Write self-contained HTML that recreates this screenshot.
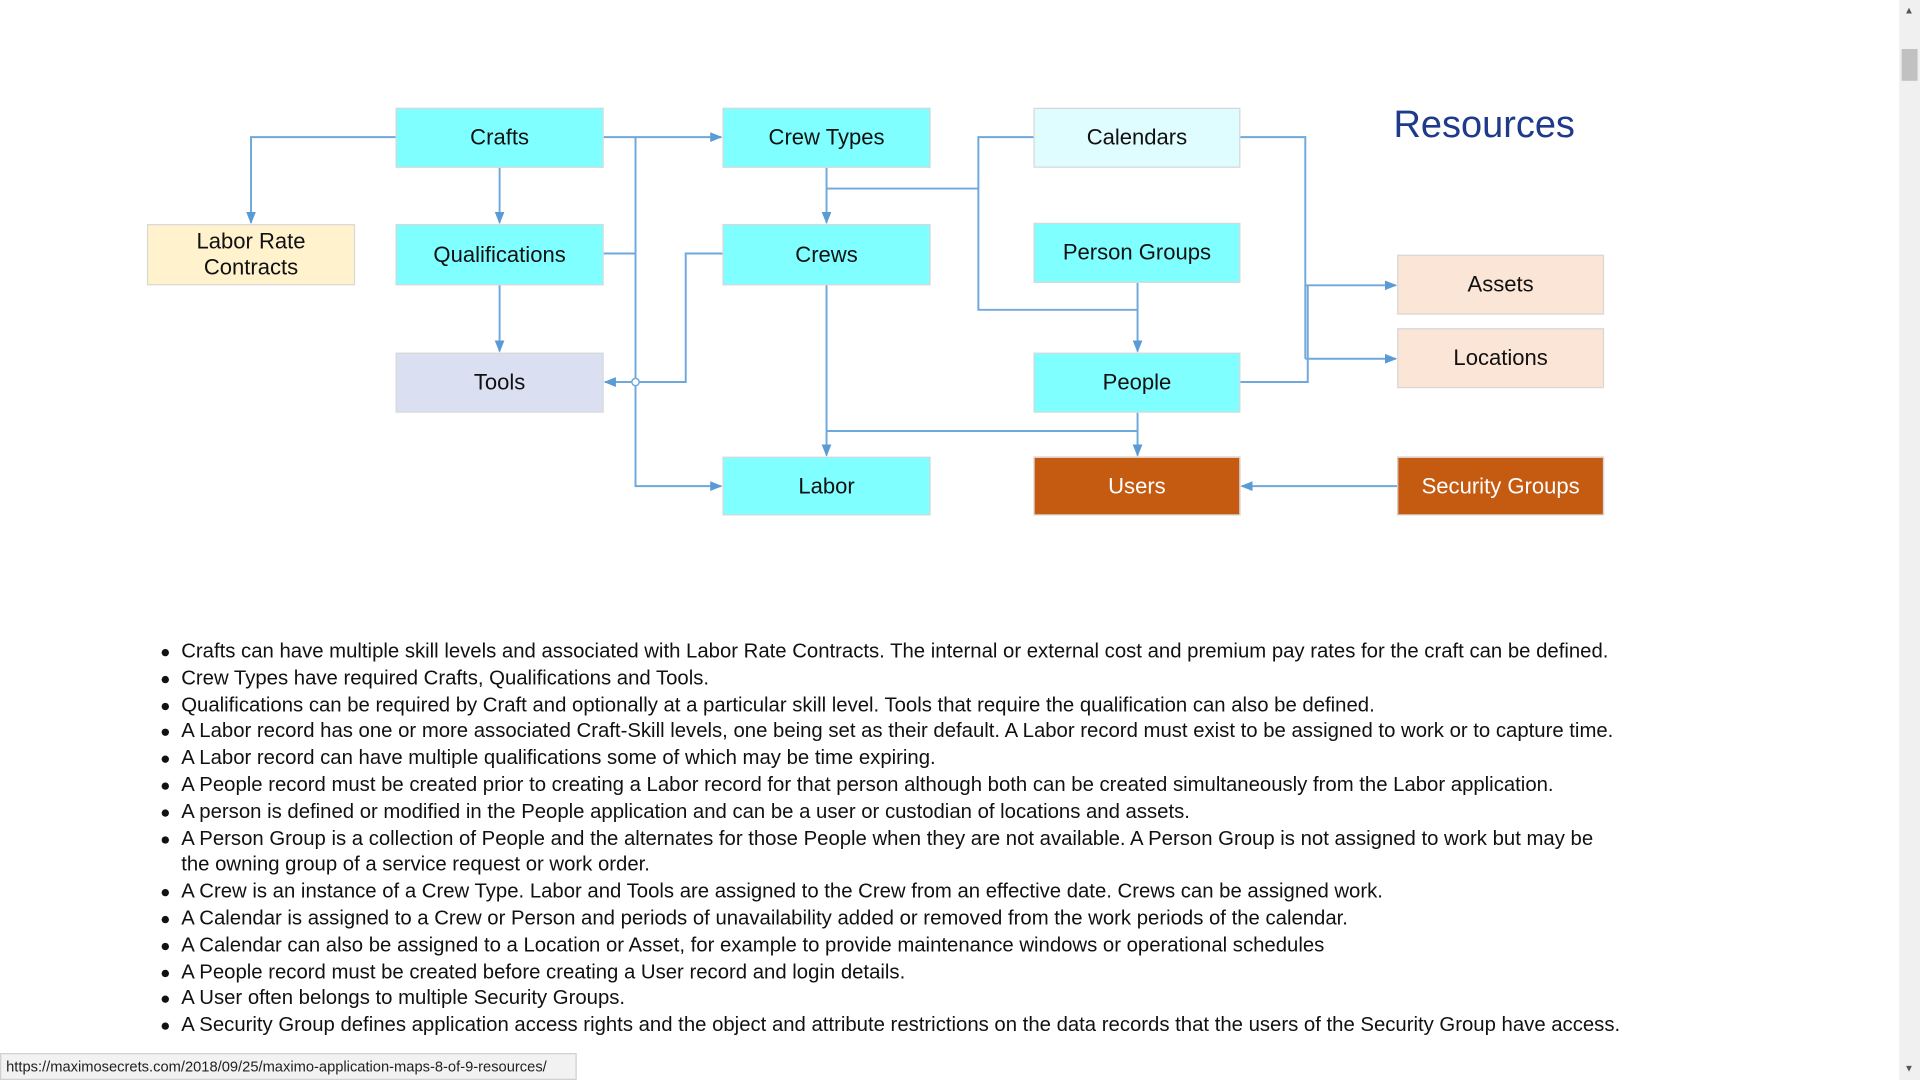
<!DOCTYPE html>
<html><head><meta charset="utf-8"><style>
html,body{margin:0;padding:0;background:#fff;width:1920px;height:1080px;overflow:hidden}
#w{position:absolute;left:0;top:0;width:1568px;height:882px;transform:scale(1.22449);transform-origin:0 0;font-family:"Liberation Sans",sans-serif}
.b{position:absolute;box-sizing:border-box;border:1px solid #d8d8d8;display:flex;align-items:center;justify-content:center;text-align:center;font-size:18px;color:#111;line-height:21px}
.c{background:#7fffff}
ul{position:absolute;left:130px;top:521px;margin:0;padding:0;list-style:none;font-size:16.6px;color:#111;line-height:21.8px}
li{position:relative;padding-left:18px;white-space:nowrap}
li:before{content:"";position:absolute;left:2px;top:9px;width:6px;height:6px;border-radius:50%;background:#111}
</style></head><body><div id="w">
<svg width="1568" height="882" style="position:absolute;left:0;top:0">
<defs><marker id="a" markerWidth="10" markerHeight="10" refX="9" refY="5" orient="auto" markerUnits="userSpaceOnUse"><path d="M0,1 L10,5 L0,9z" fill="#5b9bd5"/></marker></defs>
<g fill="none" stroke="#6fa8dc" stroke-width="1.6">
<path d="M323,112 H205 V182" marker-end="url(#a)"/>
<path d="M408,137 V182" marker-end="url(#a)"/>
<path d="M493,112 H589" marker-end="url(#a)"/>
<path d="M519,112 V397 H589" marker-end="url(#a)"/>
<path d="M493,207 H519"/>
<path d="M408,233 V287" marker-end="url(#a)"/>
<path d="M590,207 H560 V312 H494" marker-end="url(#a)"/>
<path d="M675,137 V182" marker-end="url(#a)"/>
<path d="M675,154 H799"/>
<path d="M844,112 H799 V253 H929"/>
<path d="M929,231 V287" marker-end="url(#a)"/>
<path d="M675,233 V372" marker-end="url(#a)"/>
<path d="M675,352 H929"/>
<path d="M929,337 V372" marker-end="url(#a)"/>
<path d="M1013,112 H1066 V293"/>
<path d="M1066,233 H1140" marker-end="url(#a)"/>
<path d="M1066,293 H1140" marker-end="url(#a)"/>
<path d="M1013,312 H1068 V233"/>
<path d="M1141,397 H1014" marker-end="url(#a)"/>
</g>
<circle cx="519" cy="312" r="3" fill="#fff" stroke="#6fa8dc" stroke-width="1.2"/>
</svg>
<div class="b c" style="left:323px;top:88px;width:170px;height:49px">Crafts</div>
<div class="b c" style="left:590px;top:88px;width:170px;height:49px">Crew Types</div>
<div class="b" style="left:844px;top:88px;width:169px;height:49px;background:#dffcff">Calendars</div>
<div style="position:absolute;left:1138px;top:84px;font-size:31px;color:#1f3a8a">Resources</div>
<div class="b" style="left:120px;top:183px;width:170px;height:50px;background:#fff2cc">Labor Rate<br>Contracts</div>
<div class="b c" style="left:323px;top:183px;width:170px;height:50px">Qualifications</div>
<div class="b c" style="left:590px;top:183px;width:170px;height:50px">Crews</div>
<div class="b c" style="left:844px;top:182px;width:169px;height:49px">Person Groups</div>
<div class="b" style="left:1141px;top:208px;width:169px;height:49px;background:#fbe5d6">Assets</div>
<div class="b" style="left:1141px;top:268px;width:169px;height:49px;background:#fbe5d6">Locations</div>
<div class="b" style="left:323px;top:288px;width:170px;height:49px;background:#dae0f2">Tools</div>
<div class="b c" style="left:844px;top:288px;width:169px;height:49px">People</div>
<div class="b c" style="left:590px;top:373px;width:170px;height:48px">Labor</div>
<div class="b" style="left:844px;top:373px;width:169px;height:48px;background:#c55a11;color:#fff">Users</div>
<div class="b" style="left:1141px;top:373px;width:169px;height:48px;background:#c55a11;color:#fff">Security Groups</div>
<ul>
<li>Crafts can have multiple skill levels and associated with Labor Rate Contracts. The internal or external cost and premium pay rates for the craft can be defined.</li>
<li>Crew Types have required Crafts, Qualifications and Tools.</li>
<li>Qualifications can be required by Craft and optionally at a particular skill level. Tools that require the qualification can also be defined.</li>
<li>A Labor record has one or more associated Craft-Skill levels, one being set as their default. A Labor record must exist to be assigned to work or to capture time.</li>
<li>A Labor record can have multiple qualifications some of which may be time expiring.</li>
<li>A People record must be created prior to creating a Labor record for that person although both can be created simultaneously from the Labor application.</li>
<li>A person is defined or modified in the People application and can be a user or custodian of locations and assets.</li>
<li>A Person Group is a collection of People and the alternates for those People when they are not available. A Person Group is not assigned to work but may be<br>the owning group of a service request or work order.</li>
<li>A Crew is an instance of a Crew Type. Labor and Tools are assigned to the Crew from an effective date. Crews can be assigned work.</li>
<li>A Calendar is assigned to a Crew or Person and periods of unavailability added or removed from the work periods of the calendar.</li>
<li>A Calendar can also be assigned to a Location or Asset, for example to provide maintenance windows or operational schedules</li>
<li>A People record must be created before creating a User record and login details.</li>
<li>A User often belongs to multiple Security Groups.</li>
<li>A Security Group defines application access rights and the object and attribute restrictions on the data records that the users of the Security Group have access.</li>
</ul>
<div style="position:absolute;left:1551px;top:0;width:17px;height:882px;background:#f0f0f0"></div>
<div style="position:absolute;left:1553px;top:40px;width:13px;height:26px;background:#c1c1c1"></div>
<div style="position:absolute;left:1555px;top:4px;font-size:8px;color:#555">▲</div>
<div style="position:absolute;left:1555px;top:868px;font-size:8px;color:#555">▼</div>
<div style="position:absolute;left:0;top:860px;width:471px;height:22px;background:#f2f2f2;border:1px solid #d0d0d0;box-sizing:border-box;font-size:12px;line-height:20px;padding-left:4px;color:#222">https://maximosecrets.com/2018/09/25/maximo-application-maps-8-of-9-resources/</div>
</div></body></html>
